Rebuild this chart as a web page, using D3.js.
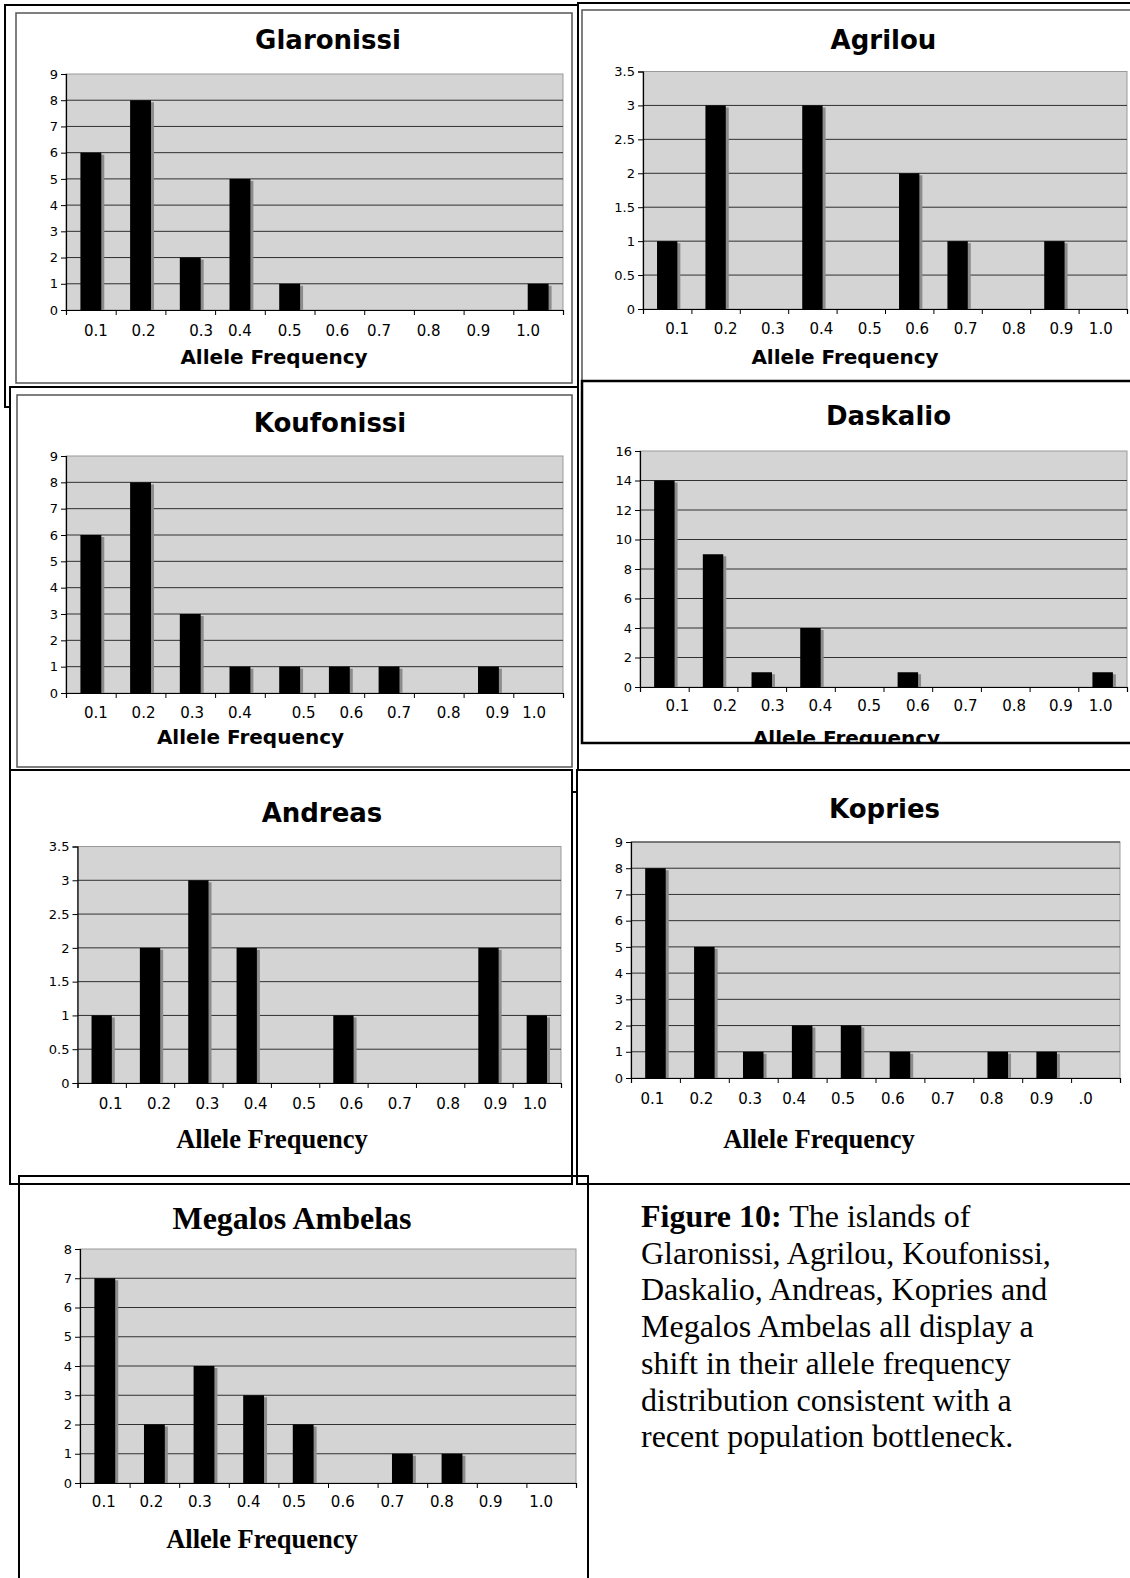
<!DOCTYPE html>
<html>
<head>
<meta charset="utf-8">
<script src="https://cdn.jsdelivr.net/npm/d3@7"></script>
<style>
  html, body { margin: 0; padding: 0; background: #fff; }
  svg { display: block; }
</style>
</head>
<body>
<svg id="fig" width="1130" height="1578"></svg>
<script>
// ---- data ----
const categories = ["0.1", "0.2", "0.3", "0.4", "0.5", "0.6", "0.7", "0.8", "0.9", "1.0"];
const kopriesTickLabels = ["0.1", "0.2", "0.3", "0.4", "0.5", "0.6", "0.7", "0.8", "0.9", ".0"];

const glaronissiCounts     = [6, 8, 2, 5, 1, 0, 0, 0, 0, 1];
const agrilouCounts        = [1, 3, 0, 3, 0, 2, 1, 0, 1, 0];
const koufonissiCounts     = [6, 8, 3, 1, 1, 1, 1, 0, 1, 0];
const daskalioCounts       = [14, 9, 1, 4, 0, 1, 0, 0, 0, 1];
const andreasCounts        = [1, 2, 3, 2, 0, 1, 0, 0, 2, 1];
const kopriesCounts        = [8, 5, 1, 2, 2, 1, 0, 1, 1, 0];
const megalosAmbelasCounts = [7, 2, 4, 3, 2, 0, 1, 1, 0, 0];

const ticksToNine    = [0, 1, 2, 3, 4, 5, 6, 7, 8, 9];
const ticksToEight   = [0, 1, 2, 3, 4, 5, 6, 7, 8];
const ticksToThree5  = [0, 0.5, 1, 1.5, 2, 2.5, 3, 3.5];
const ticksToSixteen = [0, 2, 4, 6, 8, 10, 12, 14, 16];

const captionLines = [
  "Glaronissi, Agrilou, Koufonissi,",
  "Daskalio, Andreas, Kopries and",
  "Megalos Ambelas all display a",
  "shift in their allele frequency",
  "distribution consistent with a",
  "recent population bottleneck."
];

// ---- fonts ----
const SANS = "'DejaVu Sans', Verdana, sans-serif";
const SERIF = "'Liberation Serif', 'Times New Roman', serif";

// ---- panel layout ----
const panels = [
  { title: "Glaronissi", counts: glaronissiCounts, labels: categories, yTicks: ticksToNine,
    plot: [66, 563, 74, 310], titleXY: [328, 49], titleFont: [SANS, 26],
    labelBase: 335.5, axisXY: [274, 363.5], axisFont: [SANS, 20],
    nudge: [5, 3, 11, 0, 0, -2, -10, -10, -10, -10] },
  { title: "Agrilou", counts: agrilouCounts, labels: categories, yTicks: ticksToThree5,
    plot: [643, 1127, 71.5, 309], titleXY: [883.5, 48.5], titleFont: [SANS, 26],
    labelBase: 333.5, axisXY: [845, 363.5], axisFont: [SANS, 20],
    nudge: [10, 10, 9, 9, 9, 8, 8, 8, 7, -2] },
  { title: "Koufonissi", counts: koufonissiCounts, labels: categories, yTicks: ticksToNine,
    plot: [66, 563, 456, 693], titleXY: [330, 432], titleFont: [SANS, 26],
    labelBase: 718, axisXY: [250.5, 744], axisFont: [SANS, 20],
    nudge: [5, 3, 2, 0, 14, 12, 10, 10, 9, -4] },
  { title: "Daskalio", counts: daskalioCounts, labels: categories, yTicks: ticksToSixteen,
    plot: [640, 1127, 451, 687], titleXY: [888.5, 425], titleFont: [SANS, 26],
    labelBase: 711, axisXY: [846.5, 745], axisFont: [SANS, 20],
    nudge: [13, 12, 11, 10, 10, 10, 9, 9, 7, -2], clip: [582, 381, 560, 362] },
  { title: "Andreas", counts: andreasCounts, labels: categories, yTicks: ticksToThree5,
    plot: [77.5, 561, 846.5, 1083], titleXY: [322, 821.5], titleFont: [SANS, 26],
    labelBase: 1108.5, axisXY: [272, 1147.5], axisFont: [SERIF, 26.5],
    nudge: [9, 9, 9, 9, 9, 8, 8, 8, 7, -2] },
  { title: "Kopries", counts: kopriesCounts, labels: kopriesTickLabels, yTicks: ticksToNine,
    plot: [631, 1120, 842, 1078], titleXY: [884.5, 817.5], titleFont: [SANS, 26],
    labelBase: 1103.5, axisXY: [819, 1147.5], axisFont: [SERIF, 26.5],
    nudge: [-3, -3, -3, -8, -8, -7, -6, -6, -5, -10], topGrid: true },
  { title: "Megalos Ambelas", counts: megalosAmbelasCounts, labels: categories, yTicks: ticksToEight,
    plot: [80, 576, 1249, 1483], titleXY: [292, 1229], titleFont: [SERIF, 32],
    labelBase: 1507, axisXY: [262, 1548], axisFont: [SERIF, 26.5],
    nudge: [-1, -3, -4, -5, -9, -10, -10, -10, -11, -10] }
];

// Text-box borders of the page layout, drawn in stacking order.
const frames = [
  { x: 5,   y: 5,    w: 573, h: 402, fill: "#fff", stroke: "#000", sw: 2 },
  { x: 16,  y: 13,   w: 556, h: 370, fill: "none", stroke: "#555", sw: 1.5 },
  { x: 578, y: 3,    w: 570, h: 769, fill: "#fff", stroke: "#000", sw: 2 },
  { x: 582, y: 10,   w: 566, h: 371, fill: "none", stroke: "#555", sw: 1.5 },
  { x: 10,  y: 387,  w: 568, h: 405, fill: "#fff", stroke: "#000", sw: 2 },
  { x: 17,  y: 395,  w: 555, h: 372, fill: "none", stroke: "#555", sw: 1.5 },
  { x: 582, y: 381,  w: 566, h: 362, fill: "none", stroke: "#000", sw: 2.5 },
  { x: 10,  y: 770,  w: 562, h: 414, fill: "#fff", stroke: "#000", sw: 2 },
  { x: 577, y: 770,  w: 570, h: 414, fill: "#fff", stroke: "#000", sw: 2 },
  { x: 19,  y: 1176, w: 569, h: 420, fill: "none", stroke: "#000", sw: 2 }
];

const svg = d3.select("#fig");
svg.append("rect").attr("width", 1130).attr("height", 1578).attr("fill", "#fff");

svg.append("g").attr("class", "frames")
  .selectAll("rect").data(frames).join("rect")
  .attr("x", d => d.x).attr("y", d => d.y)
  .attr("width", d => d.w).attr("height", d => d.h)
  .attr("fill", d => d.fill).attr("stroke", d => d.stroke)
  .attr("stroke-width", d => d.sw);

const defs = svg.append("defs");

panels.forEach((p, idx) => {
  const [x0, x1, y0, y1] = p.plot;
  const g = svg.append("g").attr("class", "panel");
  if (p.clip) {
    defs.append("clipPath").attr("id", "clip" + idx)
      .append("rect").attr("x", p.clip[0]).attr("y", p.clip[1])
      .attr("width", p.clip[2]).attr("height", p.clip[3]);
    g.attr("clip-path", `url(#clip${idx})`);
  }

  const x = d3.scaleBand().domain(categories).range([x0, x1])
    .paddingInner(0.58).paddingOuter(0.29);
  const xEdge = d3.scaleLinear().domain([0, categories.length]).range([x0, x1]);
  const yMax = p.yTicks[p.yTicks.length - 1];
  const y = d3.scaleLinear().domain([0, yMax]).range([y1, y0]);

  // plot area
  g.append("rect").attr("x", x0).attr("y", y0)
    .attr("width", x1 - x0).attr("height", y1 - y0)
    .attr("fill", "#d4d4d4").attr("stroke", "#9a9a9a").attr("stroke-width", 1);

  // horizontal gridlines
  const gridTicks = p.yTicks.filter(t => t > 0 && (t < yMax || p.topGrid));
  g.append("g").selectAll("line").data(gridTicks).join("line")
    .attr("x1", x0).attr("x2", x1)
    .attr("y1", d => y(d)).attr("y2", d => y(d))
    .attr("stroke", "#303030").attr("stroke-width", 1);

  // bars with their grey drop shadow
  const rows = categories.map((c, i) => ({ c, v: p.counts[i] })).filter(d => d.v > 0);
  const bw = x.bandwidth();
  g.append("g").selectAll("rect").data(rows).join("rect")
    .attr("x", d => x(d.c) + 3).attr("y", d => y(d.v) + 2)
    .attr("width", bw).attr("height", d => y(0) - y(d.v) - 2)
    .attr("fill", "#8c8c8c");
  g.append("g").selectAll("rect").data(rows).join("rect")
    .attr("x", d => x(d.c)).attr("y", d => y(d.v))
    .attr("width", bw).attr("height", d => y(0) - y(d.v))
    .attr("fill", "#000");

  // y axis
  const yAxis = g.append("g").attr("transform", `translate(${x0},0)`)
    .call(d3.axisLeft(y).tickValues(p.yTicks).tickSize(5).tickPadding(3)
      .tickFormat(d => String(d)));
  yAxis.select(".domain").attr("stroke", "#000").attr("stroke-width", 1.2);
  yAxis.selectAll(".tick line").attr("stroke", "#000");
  yAxis.selectAll(".tick text").attr("font-family", SANS).attr("font-size", 13)
    .attr("fill", "#000");

  // x axis (tick marks on category boundaries)
  const xAxis = g.append("g").attr("transform", `translate(0,${y1})`)
    .call(d3.axisBottom(xEdge).tickValues(d3.range(categories.length + 1))
      .tickSize(5).tickFormat(""));
  xAxis.select(".domain").attr("stroke", "#000").attr("stroke-width", 1.2);
  xAxis.selectAll(".tick line").attr("stroke", "#000");

  // category labels
  g.append("g").selectAll("text").data(categories).join("text")
    .attr("x", (c, i) => x(c) + bw / 2 + p.nudge[i])
    .attr("y", p.labelBase)
    .attr("text-anchor", "middle")
    .attr("font-family", SANS).attr("font-size", 15)
    .text((c, i) => p.labels[i]);

  // chart title
  g.append("text").attr("x", p.titleXY[0]).attr("y", p.titleXY[1])
    .attr("text-anchor", "middle").attr("font-weight", "bold")
    .attr("font-family", p.titleFont[0]).attr("font-size", p.titleFont[1])
    .text(p.title);

  // axis title
  g.append("text").attr("x", p.axisXY[0]).attr("y", p.axisXY[1])
    .attr("text-anchor", "middle").attr("font-weight", "bold")
    .attr("font-family", p.axisFont[0]).attr("font-size", p.axisFont[1])
    .text("Allele Frequency");
});

// figure caption
const cap = svg.append("text").attr("font-family", SERIF).attr("font-size", 32)
  .attr("fill", "#000");
const capX = 641, capY = 1227, capLead = 36.7;
const first = cap.append("tspan").attr("x", capX).attr("y", capY);
first.append("tspan").attr("font-weight", "bold").text("Figure 10:");
cap.append("tspan").text(" The islands of");
captionLines.forEach((line, i) => {
  cap.append("tspan").attr("x", capX).attr("y", capY + capLead * (i + 1)).text(line);
});
</script>
</body>
</html>
